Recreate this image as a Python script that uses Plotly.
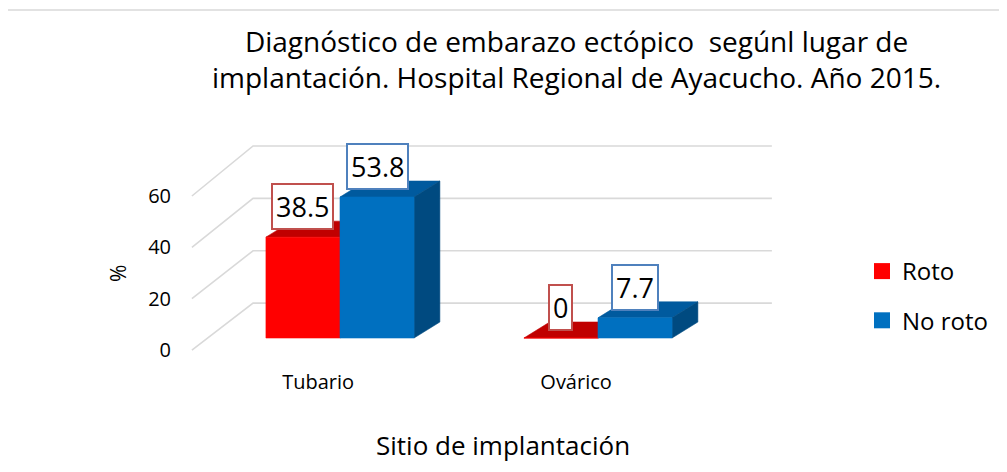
import plotly.graph_objects as go

# ---------------- data ----------------
categories = ["Tubario", "Ovárico"]
series_names = ["Roto", "No roto"]
roto = [38.5, 0]
no_roto = [53.8, 7.7]
y_ticks = [0, 20, 40, 60]
title_text = "Diagnóstico de embarazo ectópico  segúnl lugar de<br>implantación. Hospital Regional de Ayacucho. Año 2015."
x_title = "Sitio de implantación"
y_title = "%"

# ---------------- styling / layout constants ----------------
PAGE_OFF = 8                              # body margin of the html page
W, H = 1007 - PAGE_OFF, 472 - PAGE_OFF
# plot area in page pixels
L, R, T, B = 178, 800, 120, 365
X0_PX, X_PX = 340, 258                   # category 0 centre px, px per category
Y0_PX, Y_K = 338, 2.62                   # value 0 px, px per percent
FONT = "Open Sans"

BAR_W = 0.287                            # width of each bar (category units)
DX, DY = 0.10, 6.1                       # depth offset of bar top/side faces
FLOOR_FX, FLOOR_BXL, FLOOR_BXR = -0.574, -0.337, 1.674
FLOOR_FOFF, FLOOR_FSCALE, FLOOR_BOFF = -4.6, 0.98, 13.3
GRID_COLOR = "#d9d9d9"

colors = {
    "Roto": dict(front="#FF0000", top="#C00000", side="#A00000", label="#C0504D"),
    "No roto": dict(front="#0070C0", top="#005A9E", side="#004A80", label="#4F81BD"),
}

def xpaper(px):
    return (px - L) / (R - L)

def ypaper(py):
    return (B - py) / (B - T)

x_range = [(L - X0_PX) / X_PX, (R - X0_PX) / X_PX]
y_range = [(Y0_PX - B) / Y_K, (Y0_PX - T) / Y_K]

fig = go.Figure()

# ---- 3D-ish floor / back-wall grid ----
for v in y_ticks:
    fig.add_trace(go.Scatter(
        x=[FLOOR_FX, FLOOR_BXL, FLOOR_BXR],
        y=[v * FLOOR_FSCALE + FLOOR_FOFF, v + FLOOR_BOFF, v + FLOOR_BOFF],
        mode="lines", line=dict(color=GRID_COLOR, width=1.6),
        hoverinfo="skip", showlegend=False))

def poly(xs, ys, color):
    fig.add_trace(go.Scatter(
        x=xs + [xs[0]], y=ys + [ys[0]], mode="lines", fill="toself",
        fillcolor=color, line=dict(color=color, width=0.6),
        hoverinfo="skip", showlegend=False))

series_values = [roto, no_roto]
annotations = []
for ci, cat in enumerate(categories):
    for si, (name, vals) in enumerate(zip(series_names, series_values)):
        v = vals[ci]
        c = colors[name]
        x0 = ci + (si - 1) * BAR_W
        x1 = x0 + BAR_W
        # top face
        poly([x0, x1, x1 + DX, x0 + DX], [v, v, v + DY, v + DY], c["top"])
        # side face
        poly([x1, x1 + DX, x1 + DX, x1], [0, DY, v + DY, v], c["side"])
        # front face
        poly([x0, x1, x1, x0], [0, 0, v, v], c["front"])
        annotations.append(dict(
            x=(x0 + x1) / 2, y=v, xref="x", yref="y", text=f"{v:g}",
            showarrow=False, yanchor="bottom", yshift=7,
            font=dict(family=FONT, size=27, color="#000000"),
            bgcolor="#FFFFFF", bordercolor=c["label"], borderwidth=2, borderpad=3))

# legend entries
for name in series_names:
    fig.add_trace(go.Scatter(
        x=[None], y=[None], mode="markers", name=name, legendgroup=name,
        marker=dict(symbol="square", size=16, color=colors[name]["front"]),
        showlegend=True))

# title / axis titles
annotations.append(dict(
    x=xpaper(576), y=ypaper(59), xref="paper", yref="paper", text=title_text,
    showarrow=False, xanchor="center", yanchor="middle",
    font=dict(family=FONT, size=28, color="#000000")))
annotations.append(dict(
    x=xpaper(503), y=ypaper(445), xref="paper", yref="paper", text=x_title,
    showarrow=False, xanchor="center", yanchor="middle",
    font=dict(family=FONT, size=26, color="#000000")))
annotations.append(dict(
    x=xpaper(118), y=ypaper(274), xref="paper", yref="paper", text=y_title,
    showarrow=False, xanchor="center", yanchor="middle", textangle=-90,
    font=dict(family=FONT, size=21, color="#000000")))

fig.update_layout(
    width=W, height=H,
    margin=dict(l=L - PAGE_OFF, r=W - (R - PAGE_OFF), t=T - PAGE_OFF,
                b=H - (B - PAGE_OFF), autoexpand=False),
    paper_bgcolor="#FFFFFF", plot_bgcolor="#FFFFFF",
    font=dict(family=FONT, color="#000000"),
    annotations=annotations,
    shapes=[dict(type="rect", xref="paper", yref="paper",
                 x0=xpaper(7), x1=xpaper(1012), y0=ypaper(480), y1=ypaper(10),
                 line=dict(color="#D9D9D9", width=1.5), fillcolor="rgba(0,0,0,0)",
                 layer="below")],
    legend=dict(x=xpaper(862), y=ypaper(249), xanchor="left", yanchor="top",
                font=dict(family=FONT, size=24, color="#000000"),
                tracegroupgap=15, bgcolor="rgba(0,0,0,0)"),
    xaxis=dict(range=x_range, showgrid=False, zeroline=False, showline=False,
               tickmode="array", tickvals=[i - 0.085 for i in range(len(categories))],
               ticktext=categories, ticks="", ticklabelstandoff=3,
               tickfont=dict(family=FONT, size=20, color="#000000"), fixedrange=True),
    yaxis=dict(range=y_range, showgrid=False, zeroline=False, showline=False,
               tickmode="array", tickvals=[v * FLOOR_FSCALE + FLOOR_FOFF for v in y_ticks],
               ticktext=[str(v) for v in y_ticks], ticks="", ticklabelstandoff=6,
               tickfont=dict(family=FONT, size=20, color="#000000"), fixedrange=True),
)

fig.write_html("out.html")
